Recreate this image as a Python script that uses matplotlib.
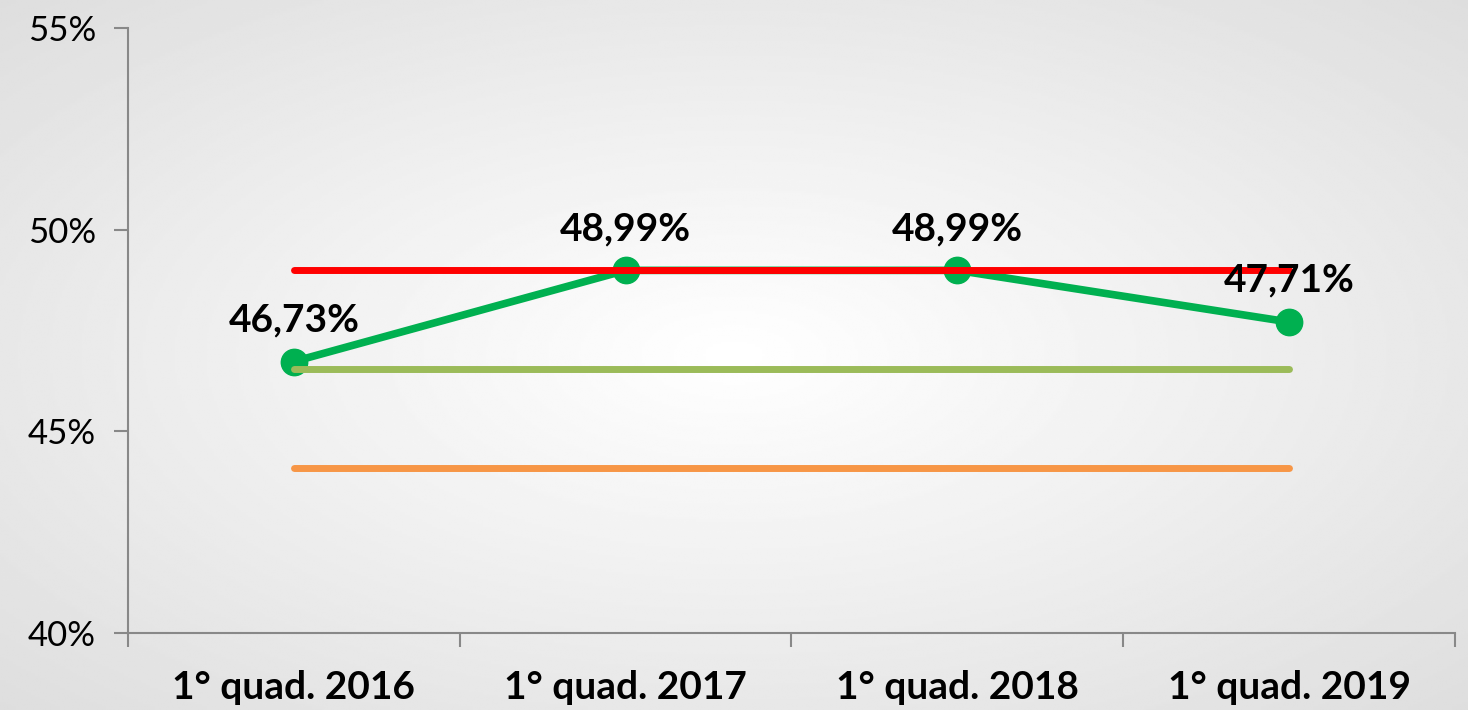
import numpy as np
import matplotlib.pyplot as plt

# data
categories = ['1° quad. 2016', '1° quad. 2017', '1° quad. 2018', '1° quad. 2019']
values = [46.73, 48.99, 48.99, 47.71]
labels = ['46,73%', '48,99%', '48,99%', '47,71%']
red_ref = [49.0, 49.0, 49.0, 49.0]
lightgreen_ref = [46.55, 46.55, 46.55, 46.55]
orange_ref = [44.1, 44.1, 44.1, 44.1]

plt.rcParams['font.family'] = ['Lato', 'DejaVu Sans']

fig = plt.figure(figsize=(14.68, 7.10), dpi=100)

# radial gradient background
bg = fig.add_axes([0, 0, 1, 1])
yy, xx = np.mgrid[-1:1:300j, -1:1:600j]
r = np.sqrt(xx**2 + yy**2) / np.sqrt(2)
bg.imshow(1 - 0.13 * r, cmap='gray', vmin=0, vmax=1, aspect='auto',
          extent=[0, 1, 0, 1], interpolation='bilinear')
bg.axis('off')

ax = fig.add_axes([0.0872, 0.1085, 0.9039, 0.8521])
ax.patch.set_alpha(0)

x = np.arange(len(categories))
ax.plot(x, values, color='#00b050', lw=5.5, marker='o', markersize=19,
        solid_capstyle='round', zorder=2)
ax.plot(x, red_ref, color='#ff0000', lw=5, solid_capstyle='round', zorder=3)
ax.plot(x, lightgreen_ref, color='#9bbb59', lw=5, solid_capstyle='round', zorder=3)
ax.plot(x, orange_ref, color='#f79646', lw=5, solid_capstyle='round', zorder=3)

for xi, v, lab in zip(x, values, labels):
    ax.annotate(lab, (xi, v), xytext=(0, 30), textcoords='offset points',
                ha='center', va='center', fontsize=28, fontweight='bold',
                color='black', zorder=5)

ax.set_xlim(-0.5, 3.5)
ax.set_ylim(40, 55)
ax.set_yticks([40, 45, 50, 55])
ax.set_yticklabels(['40%', '45%', '50%', '55%'])
ax.set_xticks(x)
ax.set_xticklabels(categories, fontsize=28, fontweight='bold')
ax.set_xticks([-0.5, 0.5, 1.5, 2.5, 3.5], minor=True)
ax.tick_params(axis='x', which='major', length=0, pad=27)
ax.tick_params(axis='x', which='minor', length=10, width=1.5, color='#888888')
ax.tick_params(axis='y', length=10, width=1.5, color='#888888', labelsize=25, pad=13)

for s in ['top', 'right']:
    ax.spines[s].set_visible(False)
for s in ['left', 'bottom']:
    ax.spines[s].set_color('#888888')
    ax.spines[s].set_linewidth(1.5)

fig.savefig('out.png', dpi=100)
